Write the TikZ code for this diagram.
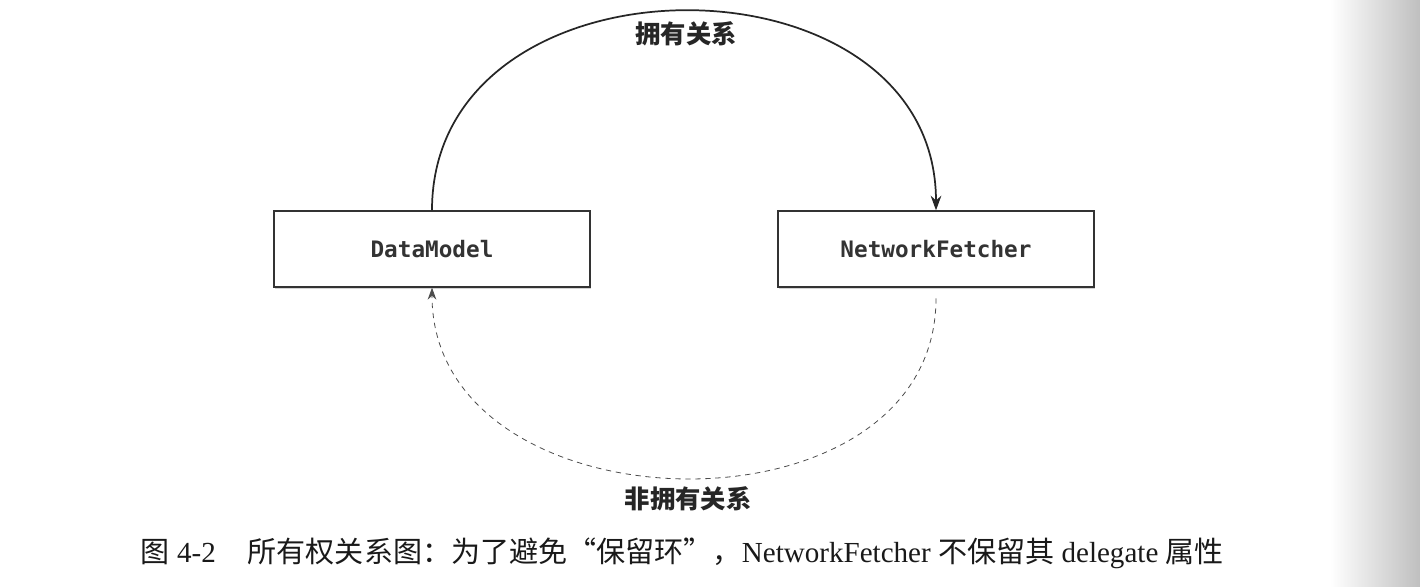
\documentclass[tikz,border=0pt]{standalone}
\usepackage{fontspec}
\setmainfont{Liberation Serif}
\setmonofont{DejaVu Sans Mono}
\newfontfamily\cjk{Noto Sans CJK SC}
\usetikzlibrary{arrows.meta,shadows}
\definecolor{inkgray}{HTML}{333333}
\begin{document}
\begin{tikzpicture}[
  x=0.75pt, y=-0.75pt,
  classbox/.style={rectangle, draw=inkgray, line width=1pt, fill=white,
    minimum width=237pt, minimum height=57pt, inner sep=0pt,
    font=\ttfamily\bfseries\fontsize{17}{20}\selectfont, text=inkgray,
    drop shadow={shadow xshift=1pt, shadow yshift=-1.2pt, opacity=0.35}},
  relabel/.style={font=\cjk\bfseries\fontsize{19}{22}\selectfont, text=black!85},
  owns/.style={draw=black!85, line width=1.3pt, -{Stealth[length=11pt,width=8pt]}},
  weak/.style={draw=black!70, line width=0.6pt, dash pattern=on 4pt off 3.5pt,
    -{Stealth[length=9pt,width=6.5pt]}}
]
\useasboundingbox (0,0) rectangle (1420,586);
\shade[left color=white, right color=black!25] (1330,0) rectangle (1420,586);

\node[classbox] (datamodel) at (432,249) {DataModel};
\node[classbox] (fetcher) at (936,249) {NetworkFetcher};

% ownership arcs
\draw[owns] (datamodel.north) to[out=90, in=90, looseness=1.35] (fetcher.north);
\draw[weak] ([yshift=-8pt]fetcher.south) to[out=-90, in=-90, looseness=1.25] (datamodel.south);

\node[relabel] (strong) at (686,34) {拥有关系};
\node[relabel] (nonstrong) at (688,499) {非拥有关系};

\node[anchor=west, font=\fontsize{21.8}{25}\selectfont, text=black!90] (caption) at (136,553)
  {{\cjk 图} 4-2\hspace{1.1em}{\cjk 所有权关系图：为了避免“保留环”，}NetworkFetcher {\cjk 不保留其} delegate {\cjk 属性}};
\end{tikzpicture}
\end{document}
